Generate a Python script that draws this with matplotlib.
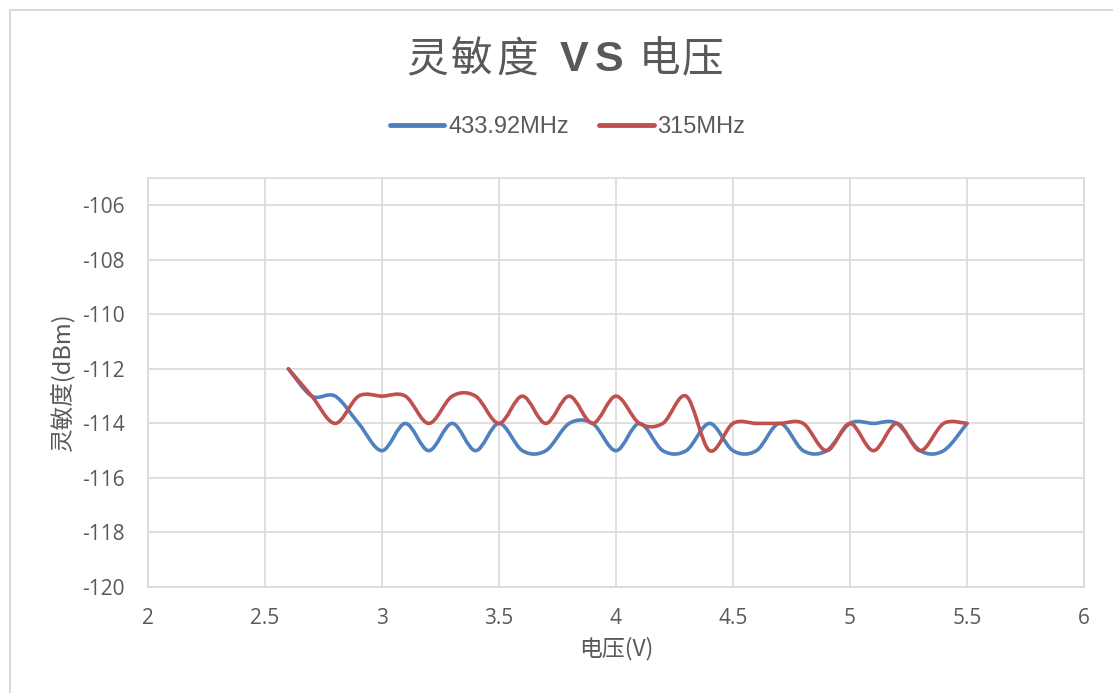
import matplotlib
matplotlib.use('Agg')
import matplotlib.pyplot as plt
from matplotlib.path import Path
from matplotlib.patches import PathPatch, Rectangle
from matplotlib.lines import Line2D
import numpy as np

plt.rcParams['font.family'] = ['Noto Sans CJK SC', 'DejaVu Sans']

# data
voltage = [2.6, 2.7, 2.8, 2.9, 3.0, 3.1, 3.2, 3.3, 3.4, 3.5,
           3.6, 3.7, 3.8, 3.9, 4.0, 4.1, 4.2, 4.3, 4.4, 4.5,
           4.6, 4.7, 4.8, 4.9, 5.0, 5.1, 5.2, 5.3, 5.4, 5.5]
sens_433 = [-112, -113, -113, -114, -115, -114, -115, -114, -115, -114,
            -115, -115, -114, -114, -115, -114, -115, -115, -114, -115,
            -115, -114, -115, -115, -114, -114, -114, -115, -115, -114]
sens_315 = [-112, -113, -114, -113, -113, -113, -114, -113, -113, -114,
            -113, -114, -113, -114, -113, -114, -114, -113, -115, -114,
            -114, -114, -114, -115, -114, -115, -114, -115, -114, -114]
series_names = ['433.92MHz', '315MHz']
series_colors = ['#4F81BD', '#C0504D']

xticks = [2, 2.5, 3, 3.5, 4, 4.5, 5, 5.5, 6]
yticks = [-120, -118, -116, -114, -112, -110, -108, -106]

title = '灵敏度 VS 电压'

grey = '#595959'


def smooth_path(x, y):
    '''Excel-style smoothed line: cubic bezier through every point'''
    pts = np.column_stack([x, y]).astype(float)
    n = len(pts)
    verts = [pts[0]]
    codes = [Path.MOVETO]
    for i in range(n - 1):
        p0 = pts[i - 1] if i > 0 else pts[i]
        p1 = pts[i]
        p2 = pts[i + 1]
        p3 = pts[i + 2] if i + 2 < n else pts[i + 1]
        c1 = p1 + (p2 - p0) / 6
        c2 = p2 - (p3 - p1) / 6
        verts += [c1, c2, p2]
        codes += [Path.CURVE4] * 3
    return Path(verts, codes)


fig = plt.figure(figsize=(11.13, 6.93), dpi=100)
ax = fig.add_axes([148 / 1113, 1 - 587 / 693, (1084 - 148) / 1113, (587 - 178) / 693])

for ys, name, col in zip([sens_433, sens_315], series_names, series_colors):
    patch = PathPatch(smooth_path(voltage, ys), facecolor='none', edgecolor=col,
                      lw=2.6, capstyle='round', joinstyle='round', zorder=3)
    ax.add_patch(patch)

ax.set_xlim(2, 6)
ax.set_ylim(-120, -105)
ax.set_xticks(xticks)
ax.set_yticks(yticks)
ax.set_xticklabels([f'{v:g}' for v in xticks])
ax.set_yticklabels([f'{v:g}' for v in yticks])
ax.grid(True, color='#d9d9d9', lw=1.2)
ax.set_axisbelow(True)
for s in ax.spines.values():
    s.set_color('#d9d9d9')
    s.set_linewidth(1.2)
ax.tick_params(length=0, colors=grey, labelsize=15)
for lab in ax.get_xticklabels() + ax.get_yticklabels():
    lab.set_family(['Open Sans', 'DejaVu Sans'])
ax.tick_params(axis='x', pad=15)
ax.tick_params(axis='y', pad=17)

ax.set_xlabel('电压(V)', fontsize=16.5, color=grey, labelpad=6)
ax.set_ylabel('灵敏度(dBm)', fontsize=17, color=grey, labelpad=5)

# title, spread out letter by letter like the Excel one
title_x = [427, 472, 517, None, 574, 609, None, 660, 703]
for ch, px in zip(title, title_x):
    if px is None:
        continue
    fig.text(px / 1113, 1 - 60 / 693, ch, ha='center', va='center',
             fontsize=31 if ch in 'VS' else 30, color=grey,
             fontweight='bold' if ch in 'VS' else 'normal',
             family=['Liberation Sans', 'Noto Sans CJK SC'] if ch in 'VS'
             else ['Noto Sans CJK SC'])

handles = [Line2D([], [], color=c, lw=3.5, solid_capstyle='round') for c in series_colors]
leg = fig.legend(handles, series_names, loc='center', bbox_to_anchor=(0.51, 1 - 127 / 693),
                 ncol=2, frameon=False, handlelength=2.3, handletextpad=0.15,
                 columnspacing=1.3, prop={'family': 'Liberation Sans', 'size': 17})
for t in leg.get_texts():
    t.set_color(grey)

# outer chart border
fig.patches.append(Rectangle((10 / 1113, -0.1), 1.2, 1 - 10 / 693 + 0.1,
                             transform=fig.transFigure, fill=False,
                             edgecolor='#d9d9d9', lw=1.5))

fig.savefig('out.png', dpi=100)
